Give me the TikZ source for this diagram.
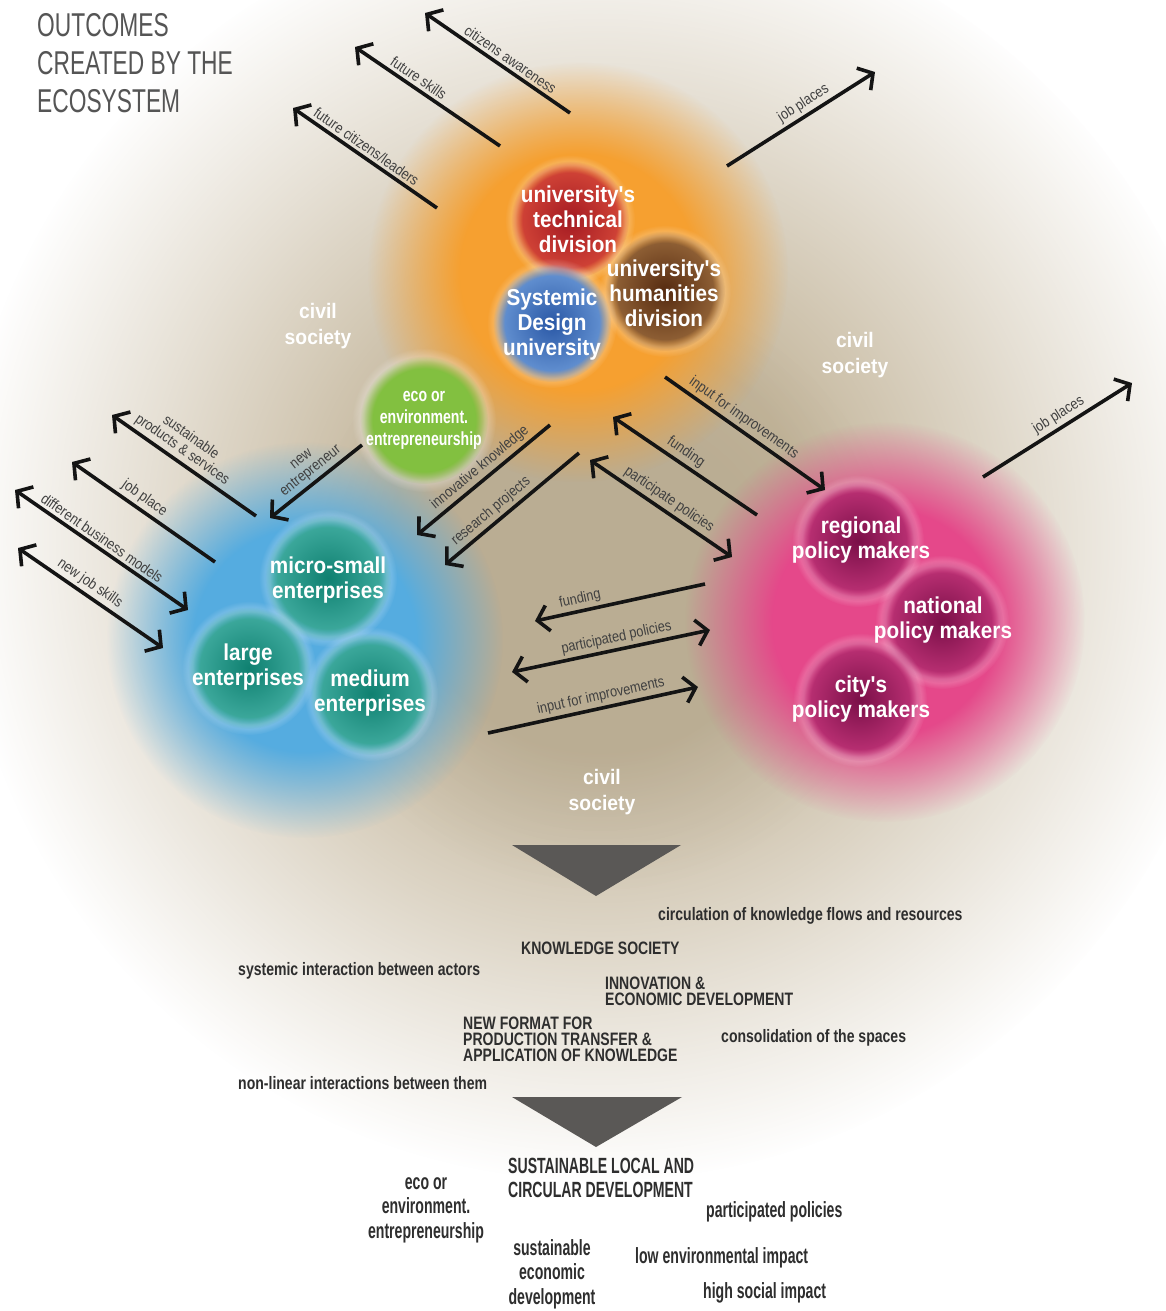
\documentclass[tikz,border=0pt]{standalone}
\usepackage{fontspec}
\setmainfont{Liberation Sans}
\newfontfamily\circfont[FakeStretch=0.9]{Liberation Sans}
\newfontfamily\ecofont[FakeStretch=0.74]{Liberation Sans}
\newfontfamily\civfont[FakeStretch=0.92]{Liberation Sans}
\newfontfamily\botfont[FakeStretch=0.64]{Liberation Sans}
\newfontfamily\smallbot[FakeStretch=0.78]{Liberation Sans}
\newfontfamily\lblfont[FakeStretch=0.85]{Liberation Sans}
\newfontfamily\titlefont[FakeStretch=0.69]{Liberation Sans}
\usetikzlibrary{arrows.meta,fadings}
\pgfdeclareradialshading{bigglowsh}{\pgfpointorigin}{color(0bp)=(pgftransparent!0); color(8bp)=(pgftransparent!0); color(18bp)=(pgftransparent!60); color(25bp)=(pgftransparent!100); color(50bp)=(pgftransparent!100)}
\pgfdeclarefading{bigglow}{\pgfuseshading{bigglowsh}}
\pgfdeclareradialshading{midglowsh}{\pgfpointorigin}{color(0bp)=(pgftransparent!0); color(14bp)=(pgftransparent!0); color(25bp)=(pgftransparent!100); color(50bp)=(pgftransparent!100)}
\pgfdeclarefading{midglow}{\pgfuseshading{midglowsh}}
\pgfdeclareradialshading{discfadesh}{\pgfpointorigin}{color(0bp)=(pgftransparent!0); color(20bp)=(pgftransparent!0); color(25bp)=(pgftransparent!100); color(50bp)=(pgftransparent!100)}
\pgfdeclarefading{discfade}{\pgfuseshading{discfadesh}}
\pgfdeclareradialshading{ringfadesh}{\pgfpointorigin}{color(0bp)=(pgftransparent!100); color(17bp)=(pgftransparent!100); color(21bp)=(pgftransparent!45); color(25bp)=(pgftransparent!100); color(50bp)=(pgftransparent!100)}
\pgfdeclarefading{ringfade}{\pgfuseshading{ringfadesh}}
\definecolor{taupe}{HTML}{C3B59A}
\definecolor{orangeG}{HTML}{F6A030}
\definecolor{blueG}{HTML}{55ACE0}
\definecolor{pinkG}{HTML}{E5488A}
\definecolor{greenG}{HTML}{82C040}
\definecolor{tealC}{HTML}{0F8070}
\definecolor{tealE}{HTML}{45B0A4}
\definecolor{magC}{HTML}{7A0F48}
\definecolor{magE}{HTML}{C4357A}
\definecolor{redC}{HTML}{A41A22}
\definecolor{redE}{HTML}{D84A3A}
\definecolor{brnC}{HTML}{552A10}
\definecolor{brnE}{HTML}{9A6A3C}
\definecolor{bluC}{HTML}{2A58A6}
\definecolor{bluE}{HTML}{6C9AD8}
\definecolor{txtdark}{HTML}{2E2E2E}
\definecolor{titlegray}{HTML}{555555}
\definecolor{trigray}{HTML}{5A5856}
\newcommand\mybubble[5]{%
  \fill[white, opacity=0.55, path fading=ringfade] #1 circle [radius=#2pt+9pt];
  \shade[inner color=#3, outer color=#4, path fading=discfade] #1 circle [radius=#2pt+3pt];
  \coordinate (#5) at #1;
}
\tikzset{
  mytip/.tip={Straight Barb[length=11pt,width=26pt]},
  arr/.style={line width=3.6pt, draw=black!92, -mytip},
  darr/.style={line width=3.6pt, draw=black!92, mytip-mytip},
  lbl/.style={font=\lblfont\fontsize{15}{15}\selectfont, text=black!75, sloped, above, inner sep=3pt, align=center},
  circtxt/.style={font=\circfont\bfseries\fontsize{23}{25}\selectfont, text=white, align=center, inner sep=0pt},
  civ/.style={font=\civfont\bfseries\fontsize{21}{26}\selectfont, text=white, align=center, inner sep=0pt},
  sbot/.style={font=\smallbot\bfseries\fontsize{18}{16}\selectfont, text=txtdark, align=left, inner sep=0pt, anchor=west},
  bbot/.style={font=\botfont\bfseries\fontsize{22}{24.5}\selectfont, text=txtdark, inner sep=0pt},
}
\begin{document}
\begin{tikzpicture}[x=1pt,y=-1pt]
\useasboundingbox (0,0) rectangle (1166,1311);
\fill[white] (0,0) rectangle (1166,1311);
% background glows
\fill[taupe, path fading=bigglow] (600,540) circle [radius=640pt];
\fill[taupe!80!black, opacity=0.22, path fading=midglow] (600,590) circle [radius=300pt];
\fill[orangeG, path fading=midglow] (578,272) circle [radius=210pt];
\fill[blueG, path fading=midglow] (305,640) circle [radius=198pt];
\fill[pinkG, path fading=midglow] (885,622) circle [radius=200pt];
% green bubble
\fill[white, opacity=0.6, path fading=ringfade] (424,420) circle [radius=72pt];
\fill[greenG, path fading=discfade] (424,420) circle [radius=64pt];
% university bubbles
\mybubble{(570,220)}{56}{redC}{redE}{bTech}
\mybubble{(665,291)}{57}{brnC}{brnE}{bHum}
\mybubble{(552,323)}{56}{bluC}{bluE}{bSys}
% enterprise bubbles
\mybubble{(328,578)}{60}{tealC}{tealE}{bMicro}
\mybubble{(249,668)}{58}{tealC}{tealE}{bLarge}
\mybubble{(371,694)}{58}{tealC}{tealE}{bMed}
% policy bubbles
\mybubble{(858,541)}{57}{magC}{magE}{bReg}
\mybubble{(942,622)}{58}{magC}{magE}{bNat}
\mybubble{(860,700)}{58}{magC}{magE}{bCity}
% bubble texts
\node[circtxt] (tTech) at (578,219) {university's\\technical\\division};
\node[circtxt] (tHum) at (664,293) {university's\\humanities\\division};
\node[circtxt] (tSys) at (552,325) {Systemic\\Design\\university};
\node[circtxt] (tMicro) at (328,580) {micro-small\\enterprises};
\node[circtxt] (tLarge) at (248,667) {large\\enterprises};
\node[circtxt] (tMed) at (370,693) {medium\\enterprises};
\node[circtxt] (tReg) at (861,540) {regional\\policy makers};
\node[circtxt] (tNat) at (943,620) {national\\policy makers};
\node[circtxt] (tCity) at (861,699) {city's\\policy makers};
\node[font=\ecofont\bfseries\fontsize{19}{22}\selectfont, text=white, align=center, inner sep=0pt] (tEco) at (424,420) {eco or\\environment.\\entrepreneurship};
% civil society
\node[civ] (cs1) at (318,326) {civil\\society};
\node[civ] (cs2) at (855,355) {civil\\society};
\node[civ] (cs3) at (602,792) {civil\\society};
% title
\node[font=\titlefont\fontsize{33}{38}\selectfont, text=titlegray, align=left, anchor=north west, inner sep=0pt] (title) at (37,13) {OUTCOMES\\CREATED BY THE\\ECOSYSTEM};
% arrows: top
\coordinate (caT) at (570,113); \coordinate (caH) at (425,13);
\draw[arr] (caT) -- node[lbl,pos=0.45] (caL) {citizens awareness} (caH);
\coordinate (fsT) at (500,146); \coordinate (fsH) at (355,47);
\draw[arr] (fsT) -- node[lbl,pos=0.6] (fsL) {future skills} (fsH);
\coordinate (fcT) at (437,208); \coordinate (fcH) at (293,108);
\draw[arr] (fcT) -- node[lbl,pos=0.53] (fcL) {future citizens/leaders} (fcH);
\coordinate (jp1T) at (727,166); \coordinate (jp1H) at (875,72);
\draw[arr] (jp1T) -- node[lbl,pos=0.56] (jp1L) {job places} (jp1H);
\coordinate (jp2T) at (983,477); \coordinate (jp2H) at (1132,383);
\draw[arr] (jp2T) -- node[lbl,pos=0.55] (jp2L) {job places} (jp2H);
% arrows: left
\coordinate (spT) at (256,516); \coordinate (spH) at (112,415);
\draw[arr] (spT) -- node[lbl,pos=0.56] (spL) {sustainable\\products \& services} (spH);
\coordinate (jplT) at (215,562); \coordinate (jplH) at (72,462);
\draw[arr] (jplT) -- node[lbl,pos=0.54] (jplL) {job place} (jplH);
\coordinate (dbA) at (15,490); \coordinate (dbB) at (188,610);
\draw[darr] (dbA) -- node[lbl,pos=0.47] (dbL) {different business models} (dbB);
\coordinate (njA) at (18,548); \coordinate (njB) at (163,648);
\draw[darr] (njA) -- node[lbl,pos=0.45] (njL) {new job skills} (njB);
\coordinate (neT) at (362,445); \coordinate (neH) at (270,518);
\draw[arr] (neT) -- node[lbl,pos=0.48] (neL) {new\\entrepreneur} (neH);
% arrows: centre
\coordinate (ikT) at (550,425); \coordinate (ikH) at (417,535);
\draw[arr] (ikT) -- node[lbl,pos=0.47] (ikL) {innovative knowledge} (ikH);
\coordinate (rpT) at (579,453); \coordinate (rpH) at (445,565);
\draw[arr] (rpT) -- node[lbl,pos=0.6] (rpL) {research projects} (rpH);
\coordinate (fuT) at (757,515); \coordinate (fuH) at (613,417);
\draw[arr] (fuT) -- node[lbl,pos=0.54] (fuL) {funding} (fuH);
\coordinate (ppA) at (590,460); \coordinate (ppB) at (732,557);
\draw[darr] (ppA) -- node[lbl,pos=0.51] (ppL) {participate policies} (ppB);
\coordinate (ii1T) at (665,377); \coordinate (ii1H) at (825,490);
\draw[arr] (ii1T) -- node[lbl,pos=0.45] (ii1L) {input for improvements} (ii1H);
\coordinate (fu2T) at (705,584); \coordinate (fu2H) at (535,621);
\draw[arr] (fu2T) -- node[lbl,pos=0.72] (fu2L) {funding} (fu2H);
\coordinate (pp2A) at (512,672); \coordinate (pp2B) at (710,630);
\draw[darr] (pp2A) -- node[lbl,pos=0.54] (pp2L) {participated policies} (pp2B);
\coordinate (ii2T) at (488,733); \coordinate (ii2H) at (698,687);
\draw[arr] (ii2T) -- node[lbl,pos=0.55] (ii2L) {input for improvements} (ii2H);
% triangles
\fill[trigray] (512,845) -- (681,845) -- (596,896) -- cycle;
\fill[trigray] (512,1097) -- (682,1097) -- (596,1147) -- cycle;
% bottom texts
\node[sbot] (b1) at (658,916) {circulation of knowledge flows and resources};
\node[sbot] (b2) at (521,948) {KNOWLEDGE SOCIETY};
\node[sbot] (b3) at (238,971) {systemic interaction between actors};
\node[sbot] (b4) at (605,991) {INNOVATION \&\\ECONOMIC DEVELOPMENT};
\node[sbot] (b5) at (463,1039) {NEW FORMAT FOR\\PRODUCTION TRANSFER \&\\APPLICATION OF KNOWLEDGE};
\node[sbot] (b6) at (721,1038) {consolidation of the spaces};
\node[sbot] (b7) at (238,1083) {non-linear interactions between them};
\node[bbot, align=left, anchor=west] (c1) at (508,1178) {SUSTAINABLE LOCAL AND\\CIRCULAR DEVELOPMENT};
\node[bbot, align=center] (c2) at (426,1210) {eco or\\environment.\\entrepreneurship};
\node[bbot, anchor=west] (c3) at (706,1212) {participated policies};
\node[bbot, align=center] (c4) at (552,1274) {sustainable\\economic\\development};
\node[bbot, anchor=west] (c5) at (635,1258) {low environmental impact};
\node[bbot, anchor=west] (c6) at (703,1293) {high social impact};
\end{tikzpicture}
\end{document}
